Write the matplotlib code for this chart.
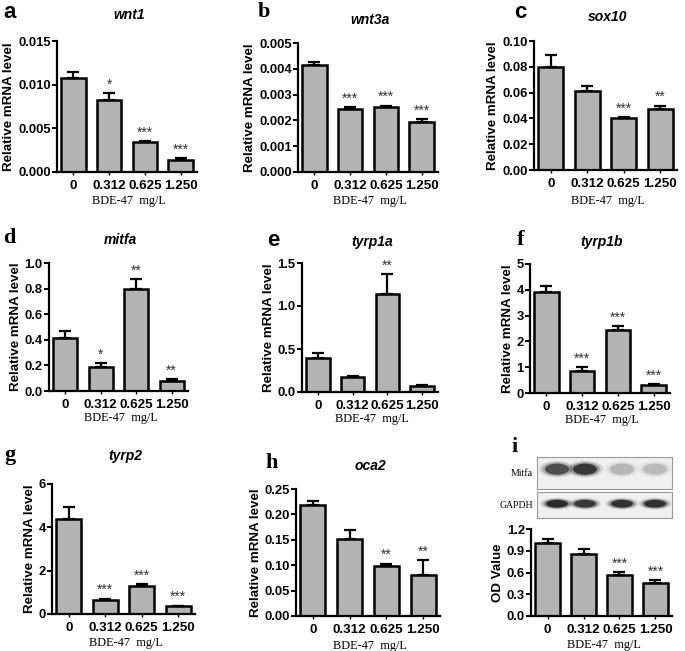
import numpy as np
import matplotlib
matplotlib.use("Agg")
import matplotlib.pyplot as plt
from matplotlib.patches import Ellipse

plt.rcParams['font.family'] = ['Liberation Sans', 'DejaVu Sans']

doses = ['0', '0.312', '0.625', '1.250']

# gene expression, mean and upper error (SEM) per dose
wnt1 = [0.0108, 0.0083, 0.0034, 0.0014]
wnt1_err = [0.0006, 0.0007, 0.0001, 0.0002]
wnt3a = [0.00413, 0.00246, 0.00253, 0.00193]
wnt3a_err = [0.00014, 0.00006, 0.00004, 0.00013]
sox10 = [0.0799, 0.0611, 0.0405, 0.0469]
sox10_err = [0.0095, 0.0044, 0.0007, 0.0031]
mitfa = [0.412, 0.187, 0.796, 0.081]
mitfa_err = [0.053, 0.032, 0.079, 0.013]
tyrp1a = [0.39, 0.17, 1.14, 0.066]
tyrp1a_err = [0.066, 0.02, 0.23, 0.012]
tyrp1b = [3.91, 0.84, 2.43, 0.30]
tyrp1b_err = [0.25, 0.16, 0.16, 0.05]
tyrp2 = [4.37, 0.66, 1.27, 0.35]
tyrp2_err = [0.56, 0.05, 0.10, 0.03]
oca2 = [0.218, 0.152, 0.098, 0.081]
oca2_err = [0.008, 0.017, 0.005, 0.029]
od = [1.01, 0.85, 0.563, 0.452]
od_err = [0.05, 0.07, 0.046, 0.042]

# western blot band intensities (0 = none, 1 = darkest)
mitfa_band = [0.75, 0.9, 0.22, 0.2]
gapdh_band = [1.0, 0.9, 0.95, 0.95]

W, H = 685, 651
fig = plt.figure(figsize=(W / 100, H / 100), dpi=100)


def rect(l, t, r, b):
    return [l / W, 1 - b / H, (r - l) / W, (b - t) / H]


def bar_panel(box, vals, errs, stars, ymax, yticks, fmt, gene, letter,
              letter_xy, serif_letter, ylabel='Relative mRNA level',
              title_y=None, xlabel_y=None):
    ax = fig.add_axes(rect(*box))
    x = np.arange(len(vals))
    ax.bar(x, vals, width=0.68, color='#b3b3b3', edgecolor='black',
           linewidth=1.8, zorder=2)
    ax.errorbar(x, vals, yerr=[np.zeros(len(vals)), errs], fmt='none',
                ecolor='black', elinewidth=1.6, capsize=4.2, capthick=1.6,
                zorder=3)
    ax.set_xlim(-0.46, 3.46)
    ax.set_ylim(0, ymax)
    ax.set_yticks(yticks)
    ax.set_yticklabels([fmt.format(v) for v in yticks])
    ax.set_xticks(x)
    ax.set_xticklabels(doses)
    for s in ['top', 'right']:
        ax.spines[s].set_visible(False)
    for s in ['left', 'bottom']:
        ax.spines[s].set_linewidth(1.6)
    ax.tick_params(axis='y', length=3.5, width=1.4, labelsize=9.4, pad=1)
    ax.tick_params(axis='x', length=2.5, width=1.0, labelsize=9.6, pad=3)
    for t in ax.get_xticklabels() + ax.get_yticklabels():
        t.set_fontweight('bold')
    ax.set_ylabel(ylabel, fontsize=9.6, fontweight='bold', labelpad=2)
    for i, s in enumerate(stars):
        if s:
            ax.text(i, vals[i] + errs[i] + ymax * 0.012, s, ha='center',
                    va='bottom', fontsize=10, color='#333333')
    # title, x label and panel letter in figure pixels
    l, t, r, b = box
    cx = (l + r) / 2 + 2
    ax.text(cx / W, 1 - title_y / H, gene, transform=fig.transFigure,
            ha='center', va='center', fontsize=10, style='italic',
            fontweight='bold')
    ax.text(cx / W, 1 - xlabel_y / H, 'BDE-47  mg/L',
            transform=fig.transFigure, ha='center', va='center',
            fontsize=8.8, family='Liberation Serif')
    fam = 'Liberation Serif' if serif_letter else 'Liberation Sans'
    ax.text(letter_xy[0] / W, 1 - letter_xy[1] / H, letter,
            transform=fig.transFigure, ha='left', va='center',
            fontsize=16, fontweight='bold', family=fam)
    return ax


bar_panel((57, 41, 197, 172), wnt1, wnt1_err, ['', '*', '***', '***'],
          0.015, [0, 0.005, 0.010, 0.015], '{:.3f}', 'wnt1', 'a', (3, 13),
          False, title_y=15, xlabel_y=201)
bar_panel((298, 43, 438, 172), wnt3a, wnt3a_err, ['', '***', '***', '***'],
          0.005, [0, 0.001, 0.002, 0.003, 0.004, 0.005], '{:.3f}', 'wnt3a',
          'b', (258, 12), True, title_y=20, xlabel_y=201)
bar_panel((534, 41, 677, 170), sox10, sox10_err, ['', '', '***', '**'],
          0.10, [0, 0.02, 0.04, 0.06, 0.08, 0.10], '{:.2f}', 'sox10', 'c',
          (514, 13), False, title_y=17, xlabel_y=201)

bar_panel((49, 263, 188, 391), mitfa, mitfa_err, ['', '*', '**', '**'],
          1.0, [0, 0.2, 0.4, 0.6, 0.8, 1.0], '{:.1f}', 'mitfa', 'd',
          (3, 238), True, title_y=240, xlabel_y=418)
bar_panel((302, 263, 438, 392), tyrp1a, tyrp1a_err, ['', '', '**', ''],
          1.5, [0, 0.5, 1.0, 1.5], '{:.1f}', 'tyrp1a', 'e', (267, 240),
          False, title_y=242, xlabel_y=419)
bar_panel((530, 264, 670, 393), tyrp1b, tyrp1b_err,
          ['', '***', '***', '***'], 5, [0, 1, 2, 3, 4, 5], '{:.0f}',
          'tyrp1b', 'f', (517, 240), True, title_y=242, xlabel_y=420)

bar_panel((52, 484, 195, 614), tyrp2, tyrp2_err, ['', '***', '***', '***'],
          6, [0, 2, 4, 6], '{:.0f}', 'tyrp2', 'g', (4, 455), True,
          title_y=456, xlabel_y=643)
bar_panel((296, 489, 440, 616), oca2, oca2_err, ['', '', '**', '**'],
          0.25, [0, 0.05, 0.10, 0.15, 0.20, 0.25], '{:.2f}', 'oca2', 'h',
          (265, 463), True, title_y=466, xlabel_y=646)
bar_panel((531, 529, 672, 616), od, od_err, ['', '', '***', '***'],
          1.2, [0, 0.3, 0.6, 0.9, 1.2], '{:.1f}', '', 'i', (512, 447), True,
          ylabel='OD Value', title_y=466, xlabel_y=645)

# western blot strips for panel i
band_x = [557, 585, 622, 655]
for (t, b), name, dens, bw, bh, yc in [
        ((457, 489), 'Mitfa', mitfa_band, 24, 0.35, 0.62),
        ((492, 518), 'GAPDH', gapdh_band, 22, 0.3, 0.55)]:
    bx = fig.add_axes(rect(537, t, 672, b))
    bx.set_xlim(537, 672)
    bx.set_ylim(0, 1)
    bx.set_facecolor('#f0f0f0')
    bx.set_xticks([])
    bx.set_yticks([])
    for s in bx.spines.values():
        s.set_color('#999999')
        s.set_linewidth(0.8)
    for xc, d in zip(band_x, dens):
        for k, a in [(1.5, 0.15), (1.25, 0.3), (1.0, 0.8)]:
            bx.add_patch(Ellipse((xc, yc), bw * k, bh * k,
                                 facecolor='#111111', alpha=a * d,
                                 edgecolor='none'))
    fig.text(533 / W, 1 - (t + b) / 2 / H, name, ha='right', va='center',
             fontsize=7, family='Liberation Serif')

fig.savefig('out.png', dpi=100)
